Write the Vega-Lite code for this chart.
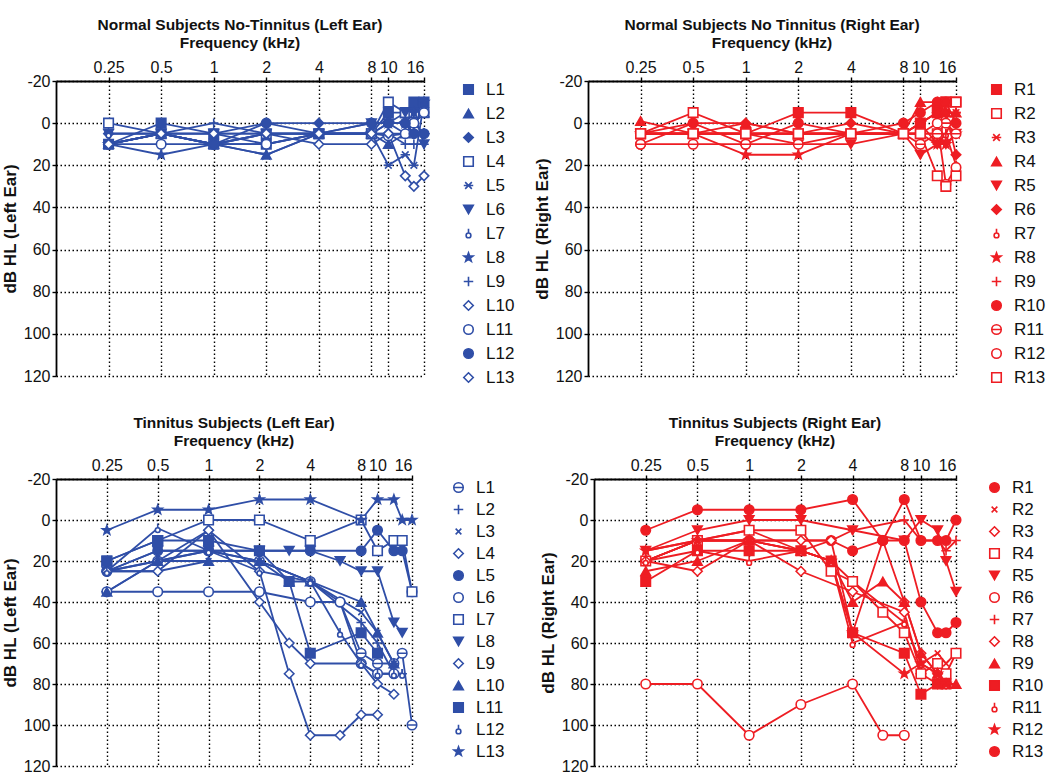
{
"$schema":"https://vega.github.io/schema/vega-lite/v6.json",
"background":"white",
"padding":{"left":1,"top":17,"right":0,"bottom":0},
"datasets":{
"a":[
{"s":"L1","f":0.25,"db":10},{"s":"L1","f":0.5,"db":0},{"s":"L1","f":1,"db":5},{"s":"L1","f":2,"db":10},{"s":"L1","f":4,"db":5},{"s":"L1","f":8,"db":5},{"s":"L1","f":10,"db":-5},{"s":"L1","f":12.5,"db":-5},{"s":"L1","f":14,"db":-10},{"s":"L1","f":16,"db":-10},
{"s":"L2","f":0.25,"db":10},{"s":"L2","f":0.5,"db":5},{"s":"L2","f":1,"db":10},{"s":"L2","f":2,"db":15},{"s":"L2","f":4,"db":5},{"s":"L2","f":8,"db":5},{"s":"L2","f":10,"db":10},{"s":"L2","f":12.5,"db":5},{"s":"L2","f":14,"db":0},{"s":"L2","f":16,"db":-5},
{"s":"L3","f":0.25,"db":5},{"s":"L3","f":0.5,"db":5},{"s":"L3","f":1,"db":5},{"s":"L3","f":2,"db":0},{"s":"L3","f":4,"db":0},{"s":"L3","f":8,"db":0},{"s":"L3","f":10,"db":0},{"s":"L3","f":12.5,"db":0},{"s":"L3","f":14,"db":5},{"s":"L3","f":16,"db":5},
{"s":"L4","f":0.25,"db":0},{"s":"L4","f":0.5,"db":5},{"s":"L4","f":1,"db":10},{"s":"L4","f":2,"db":5},{"s":"L4","f":4,"db":5},{"s":"L4","f":8,"db":5},{"s":"L4","f":10,"db":-10},{"s":"L4","f":12.5,"db":-5},{"s":"L4","f":14,"db":-5},{"s":"L4","f":16,"db":-5},
{"s":"L5","f":0.25,"db":10},{"s":"L5","f":0.5,"db":5},{"s":"L5","f":1,"db":10},{"s":"L5","f":2,"db":10},{"s":"L5","f":4,"db":5},{"s":"L5","f":8,"db":5},{"s":"L5","f":10,"db":20},{"s":"L5","f":12.5,"db":15},{"s":"L5","f":14,"db":20},{"s":"L5","f":16,"db":-10},
{"s":"L6","f":0.25,"db":5},{"s":"L6","f":0.5,"db":5},{"s":"L6","f":1,"db":5},{"s":"L6","f":2,"db":5},{"s":"L6","f":4,"db":5},{"s":"L6","f":8,"db":0},{"s":"L6","f":10,"db":0},{"s":"L6","f":12.5,"db":-5},{"s":"L6","f":14,"db":-5},{"s":"L6","f":16,"db":10},
{"s":"L7","f":0.25,"db":5},{"s":"L7","f":0.5,"db":5},{"s":"L7","f":1,"db":10},{"s":"L7","f":2,"db":5},{"s":"L7","f":4,"db":5},{"s":"L7","f":8,"db":5},{"s":"L7","f":10,"db":0},{"s":"L7","f":12.5,"db":5},{"s":"L7","f":14,"db":0},{"s":"L7","f":16,"db":-5},
{"s":"L8","f":0.25,"db":10},{"s":"L8","f":0.5,"db":15},{"s":"L8","f":1,"db":10},{"s":"L8","f":2,"db":15},{"s":"L8","f":4,"db":5},{"s":"L8","f":8,"db":5},{"s":"L8","f":10,"db":0},{"s":"L8","f":12.5,"db":0},{"s":"L8","f":14,"db":-5},{"s":"L8","f":16,"db":-10},
{"s":"L9","f":0.25,"db":10},{"s":"L9","f":0.5,"db":5},{"s":"L9","f":1,"db":0},{"s":"L9","f":2,"db":5},{"s":"L9","f":4,"db":5},{"s":"L9","f":8,"db":5},{"s":"L9","f":10,"db":5},{"s":"L9","f":12.5,"db":10},{"s":"L9","f":14,"db":10},{"s":"L9","f":16,"db":10},
{"s":"L10","f":0.25,"db":10},{"s":"L10","f":0.5,"db":5},{"s":"L10","f":1,"db":10},{"s":"L10","f":2,"db":5},{"s":"L10","f":4,"db":10},{"s":"L10","f":8,"db":10},{"s":"L10","f":10,"db":5},{"s":"L10","f":12.5,"db":5},{"s":"L10","f":14,"db":0},{"s":"L10","f":16,"db":5},
{"s":"L11","f":0.25,"db":10},{"s":"L11","f":0.5,"db":10},{"s":"L11","f":1,"db":10},{"s":"L11","f":2,"db":10},{"s":"L11","f":4,"db":5},{"s":"L11","f":8,"db":5},{"s":"L11","f":10,"db":6},{"s":"L11","f":12.5,"db":5},{"s":"L11","f":14,"db":0},{"s":"L11","f":16,"db":-5},
{"s":"L12","f":0.25,"db":10},{"s":"L12","f":0.5,"db":5},{"s":"L12","f":1,"db":10},{"s":"L12","f":2,"db":0},{"s":"L12","f":4,"db":5},{"s":"L12","f":8,"db":0},{"s":"L12","f":10,"db":0},{"s":"L12","f":12.5,"db":0},{"s":"L12","f":14,"db":5},{"s":"L12","f":16,"db":5},
{"s":"L13","f":0.25,"db":10},{"s":"L13","f":0.5,"db":5},{"s":"L13","f":1,"db":5},{"s":"L13","f":2,"db":5},{"s":"L13","f":4,"db":5},{"s":"L13","f":8,"db":5},{"s":"L13","f":10,"db":5},{"s":"L13","f":12.5,"db":25},{"s":"L13","f":14,"db":30},{"s":"L13","f":16,"db":25}
],
"b":[
{"s":"R1","f":0.25,"db":5},{"s":"R1","f":0.5,"db":5},{"s":"R1","f":1,"db":5},{"s":"R1","f":2,"db":-5},{"s":"R1","f":4,"db":-5},{"s":"R1","f":8,"db":5},{"s":"R1","f":10,"db":0},{"s":"R1","f":12.5,"db":-5},{"s":"R1","f":14,"db":-10},{"s":"R1","f":16,"db":-10},
{"s":"R2","f":0.25,"db":5},{"s":"R2","f":0.5,"db":-5},{"s":"R2","f":1,"db":5},{"s":"R2","f":2,"db":5},{"s":"R2","f":4,"db":5},{"s":"R2","f":8,"db":5},{"s":"R2","f":10,"db":5},{"s":"R2","f":12.5,"db":5},{"s":"R2","f":14,"db":-10},{"s":"R2","f":16,"db":-10},
{"s":"R3","f":0.25,"db":5},{"s":"R3","f":0.5,"db":5},{"s":"R3","f":1,"db":5},{"s":"R3","f":2,"db":5},{"s":"R3","f":4,"db":5},{"s":"R3","f":8,"db":5},{"s":"R3","f":10,"db":0},{"s":"R3","f":12.5,"db":-5},{"s":"R3","f":14,"db":-5},{"s":"R3","f":16,"db":-5},
{"s":"R4","f":0.25,"db":-1},{"s":"R4","f":0.5,"db":5},{"s":"R4","f":1,"db":0},{"s":"R4","f":2,"db":5},{"s":"R4","f":4,"db":5},{"s":"R4","f":8,"db":5},{"s":"R4","f":10,"db":-10},{"s":"R4","f":12.5,"db":-10},{"s":"R4","f":14,"db":-5},{"s":"R4","f":16,"db":-5},
{"s":"R5","f":0.25,"db":5},{"s":"R5","f":0.5,"db":5},{"s":"R5","f":1,"db":5},{"s":"R5","f":2,"db":10},{"s":"R5","f":4,"db":10},{"s":"R5","f":8,"db":5},{"s":"R5","f":10,"db":15},{"s":"R5","f":12.5,"db":10},{"s":"R5","f":14,"db":10},{"s":"R5","f":16,"db":5},
{"s":"R6","f":0.25,"db":5},{"s":"R6","f":0.5,"db":0},{"s":"R6","f":1,"db":0},{"s":"R6","f":2,"db":5},{"s":"R6","f":4,"db":0},{"s":"R6","f":8,"db":5},{"s":"R6","f":10,"db":0},{"s":"R6","f":12.5,"db":-5},{"s":"R6","f":14,"db":-5},{"s":"R6","f":16,"db":15},
{"s":"R7","f":0.25,"db":5},{"s":"R7","f":0.5,"db":5},{"s":"R7","f":1,"db":5},{"s":"R7","f":2,"db":5},{"s":"R7","f":4,"db":5},{"s":"R7","f":8,"db":5},{"s":"R7","f":10,"db":5},{"s":"R7","f":12.5,"db":5},{"s":"R7","f":14,"db":5},{"s":"R7","f":16,"db":20},
{"s":"R8","f":0.25,"db":5},{"s":"R8","f":0.5,"db":5},{"s":"R8","f":1,"db":15},{"s":"R8","f":2,"db":15},{"s":"R8","f":4,"db":5},{"s":"R8","f":8,"db":5},{"s":"R8","f":10,"db":0},{"s":"R8","f":12.5,"db":10},{"s":"R8","f":14,"db":10},{"s":"R8","f":16,"db":5},
{"s":"R9","f":0.25,"db":5},{"s":"R9","f":0.5,"db":5},{"s":"R9","f":1,"db":5},{"s":"R9","f":2,"db":5},{"s":"R9","f":4,"db":5},{"s":"R9","f":8,"db":5},{"s":"R9","f":10,"db":5},{"s":"R9","f":12.5,"db":10},{"s":"R9","f":14,"db":5},{"s":"R9","f":16,"db":-5},
{"s":"R10","f":0.25,"db":10},{"s":"R10","f":0.5,"db":0},{"s":"R10","f":1,"db":10},{"s":"R10","f":2,"db":0},{"s":"R10","f":4,"db":5},{"s":"R10","f":8,"db":0},{"s":"R10","f":10,"db":-5},{"s":"R10","f":12.5,"db":-10},{"s":"R10","f":14,"db":-10},{"s":"R10","f":16,"db":0},
{"s":"R11","f":0.25,"db":10},{"s":"R11","f":0.5,"db":10},{"s":"R11","f":1,"db":10},{"s":"R11","f":2,"db":10},{"s":"R11","f":4,"db":5},{"s":"R11","f":8,"db":5},{"s":"R11","f":10,"db":10},{"s":"R11","f":12.5,"db":5},{"s":"R11","f":14,"db":0},{"s":"R11","f":16,"db":5},
{"s":"R12","f":0.25,"db":5},{"s":"R12","f":0.5,"db":5},{"s":"R12","f":1,"db":5},{"s":"R12","f":2,"db":5},{"s":"R12","f":4,"db":5},{"s":"R12","f":8,"db":5},{"s":"R12","f":10,"db":5},{"s":"R12","f":12.5,"db":0},{"s":"R12","f":14,"db":29},{"s":"R12","f":16,"db":21},
{"s":"R13","f":0.25,"db":5},{"s":"R13","f":0.5,"db":5},{"s":"R13","f":1,"db":5},{"s":"R13","f":2,"db":5},{"s":"R13","f":4,"db":5},{"s":"R13","f":8,"db":5},{"s":"R13","f":10,"db":5},{"s":"R13","f":12.5,"db":25},{"s":"R13","f":14,"db":30},{"s":"R13","f":16,"db":25}
],
"c":[
{"s":"L1","f":0.25,"db":25},{"s":"L1","f":0.5,"db":20},{"s":"L1","f":1,"db":15},{"s":"L1","f":2,"db":20},{"s":"L1","f":4,"db":30},{"s":"L1","f":6,"db":40},{"s":"L1","f":8,"db":65},{"s":"L1","f":10,"db":70},{"s":"L1","f":12.5,"db":70},{"s":"L1","f":14,"db":65},{"s":"L1","f":16,"db":100},
{"s":"L2","f":0.25,"db":25},{"s":"L2","f":0.5,"db":20},{"s":"L2","f":1,"db":15},{"s":"L2","f":2,"db":20},{"s":"L2","f":4,"db":30},{"s":"L2","f":8,"db":50},{"s":"L2","f":10,"db":60},{"s":"L2","f":12.5,"db":75},{"s":"L2","f":14,"db":75},
{"s":"L3","f":0.25,"db":25},{"s":"L3","f":0.5,"db":25},{"s":"L3","f":1,"db":20},{"s":"L3","f":2,"db":20},{"s":"L3","f":4,"db":30},{"s":"L3","f":8,"db":45},{"s":"L3","f":10,"db":55},{"s":"L3","f":12.5,"db":70},
{"s":"L4","f":0.25,"db":35},{"s":"L4","f":0.5,"db":20},{"s":"L4","f":1,"db":5},{"s":"L4","f":2,"db":25},{"s":"L4","f":3,"db":75},{"s":"L4","f":4,"db":105},{"s":"L4","f":6,"db":105},{"s":"L4","f":8,"db":95},{"s":"L4","f":10,"db":95},
{"s":"L5","f":0.25,"db":25},{"s":"L5","f":0.5,"db":15},{"s":"L5","f":1,"db":15},{"s":"L5","f":2,"db":15},{"s":"L5","f":4,"db":15},{"s":"L5","f":8,"db":15},{"s":"L5","f":10,"db":5},{"s":"L5","f":12.5,"db":15},{"s":"L5","f":14,"db":15},{"s":"L5","f":16,"db":35},
{"s":"L6","f":0.25,"db":35},{"s":"L6","f":0.5,"db":35},{"s":"L6","f":1,"db":35},{"s":"L6","f":2,"db":35},{"s":"L6","f":4,"db":40},{"s":"L6","f":6,"db":40},{"s":"L6","f":8,"db":70},{"s":"L6","f":10,"db":75},{"s":"L6","f":12.5,"db":75},
{"s":"L7","f":0.25,"db":20},{"s":"L7","f":0.5,"db":10},{"s":"L7","f":1,"db":0},{"s":"L7","f":2,"db":0},{"s":"L7","f":4,"db":10},{"s":"L7","f":8,"db":0},{"s":"L7","f":10,"db":15},{"s":"L7","f":12.5,"db":10},{"s":"L7","f":14,"db":10},{"s":"L7","f":16,"db":35},
{"s":"L8","f":0.25,"db":25},{"s":"L8","f":0.5,"db":15},{"s":"L8","f":1,"db":15},{"s":"L8","f":2,"db":15},{"s":"L8","f":3,"db":15},{"s":"L8","f":4,"db":15},{"s":"L8","f":6,"db":20},{"s":"L8","f":8,"db":25},{"s":"L8","f":10,"db":25},{"s":"L8","f":12.5,"db":50},{"s":"L8","f":14,"db":55},
{"s":"L9","f":0.25,"db":25},{"s":"L9","f":0.5,"db":25},{"s":"L9","f":1,"db":5},{"s":"L9","f":2,"db":40},{"s":"L9","f":3,"db":60},{"s":"L9","f":4,"db":70},{"s":"L9","f":8,"db":70},{"s":"L9","f":10,"db":80},{"s":"L9","f":12.5,"db":85},
{"s":"L10","f":0.25,"db":35},{"s":"L10","f":0.5,"db":20},{"s":"L10","f":1,"db":20},{"s":"L10","f":2,"db":20},{"s":"L10","f":3,"db":30},{"s":"L10","f":4,"db":30},{"s":"L10","f":8,"db":40},{"s":"L10","f":10,"db":55},{"s":"L10","f":12.5,"db":70},
{"s":"L11","f":0.25,"db":20},{"s":"L11","f":0.5,"db":10},{"s":"L11","f":1,"db":10},{"s":"L11","f":2,"db":15},{"s":"L11","f":3,"db":30},{"s":"L11","f":4,"db":65},{"s":"L11","f":8,"db":55},{"s":"L11","f":10,"db":65},
{"s":"L12","f":0.25,"db":25},{"s":"L12","f":0.5,"db":4},{"s":"L12","f":1,"db":15},{"s":"L12","f":2,"db":25},{"s":"L12","f":4,"db":30},{"s":"L12","f":6,"db":55},{"s":"L12","f":8,"db":70},{"s":"L12","f":10,"db":75},{"s":"L12","f":12.5,"db":75},{"s":"L12","f":14,"db":75},
{"s":"L13","f":0.25,"db":5},{"s":"L13","f":0.5,"db":-5},{"s":"L13","f":1,"db":-5},{"s":"L13","f":2,"db":-10},{"s":"L13","f":4,"db":-10},{"s":"L13","f":8,"db":0},{"s":"L13","f":10,"db":-10},{"s":"L13","f":12.5,"db":-10},{"s":"L13","f":14,"db":0},{"s":"L13","f":16,"db":0}
],
"d":[
{"s":"R1","f":0.25,"db":20},{"s":"R1","f":0.5,"db":10},{"s":"R1","f":1,"db":10},{"s":"R1","f":2,"db":15},{"s":"R1","f":3,"db":10},{"s":"R1","f":4,"db":15},{"s":"R1","f":6,"db":10},{"s":"R1","f":8,"db":10},{"s":"R1","f":10,"db":40},{"s":"R1","f":12.5,"db":55},{"s":"R1","f":14,"db":55},{"s":"R1","f":16,"db":50},
{"s":"R2","f":0.25,"db":15},{"s":"R2","f":0.5,"db":10},{"s":"R2","f":1,"db":5},{"s":"R2","f":2,"db":15},{"s":"R2","f":3,"db":20},{"s":"R2","f":4,"db":30},{"s":"R2","f":8,"db":50},{"s":"R2","f":10,"db":70},{"s":"R2","f":12.5,"db":65},{"s":"R2","f":14,"db":70},{"s":"R2","f":16,"db":65},
{"s":"R3","f":0.25,"db":20},{"s":"R3","f":0.5,"db":25},{"s":"R3","f":1,"db":10},{"s":"R3","f":2,"db":25},{"s":"R3","f":4,"db":35},{"s":"R3","f":8,"db":45},{"s":"R3","f":10,"db":75},{"s":"R3","f":12.5,"db":80},{"s":"R3","f":14,"db":80},
{"s":"R4","f":0.25,"db":20},{"s":"R4","f":0.5,"db":10},{"s":"R4","f":1,"db":5},{"s":"R4","f":2,"db":5},{"s":"R4","f":3,"db":25},{"s":"R4","f":4,"db":30},{"s":"R4","f":6,"db":45},{"s":"R4","f":8,"db":55},{"s":"R4","f":10,"db":75},{"s":"R4","f":12.5,"db":70},{"s":"R4","f":14,"db":75},{"s":"R4","f":16,"db":65},
{"s":"R5","f":0.25,"db":15},{"s":"R5","f":0.5,"db":5},{"s":"R5","f":1,"db":0},{"s":"R5","f":2,"db":0},{"s":"R5","f":4,"db":5},{"s":"R5","f":8,"db":10},{"s":"R5","f":10,"db":0},{"s":"R5","f":12.5,"db":5},{"s":"R5","f":14,"db":20},{"s":"R5","f":16,"db":35},
{"s":"R6","f":0.25,"db":80},{"s":"R6","f":0.5,"db":80},{"s":"R6","f":1,"db":105},{"s":"R6","f":2,"db":90},{"s":"R6","f":4,"db":80},{"s":"R6","f":6,"db":105},{"s":"R6","f":8,"db":105},
{"s":"R7","f":0.25,"db":20},{"s":"R7","f":0.5,"db":10},{"s":"R7","f":1,"db":10},{"s":"R7","f":2,"db":10},{"s":"R7","f":3,"db":10},{"s":"R7","f":4,"db":5},{"s":"R7","f":8,"db":0},{"s":"R7","f":10,"db":10},{"s":"R7","f":12.5,"db":10},{"s":"R7","f":14,"db":15},{"s":"R7","f":16,"db":10},
{"s":"R8","f":0.25,"db":20},{"s":"R8","f":0.5,"db":10},{"s":"R8","f":1,"db":10},{"s":"R8","f":2,"db":10},{"s":"R8","f":3,"db":10},{"s":"R8","f":4,"db":55},{"s":"R8","f":6,"db":10},{"s":"R8","f":8,"db":40},{"s":"R8","f":10,"db":65},{"s":"R8","f":12.5,"db":75},{"s":"R8","f":14,"db":80},
{"s":"R9","f":0.25,"db":25},{"s":"R9","f":0.5,"db":20},{"s":"R9","f":1,"db":10},{"s":"R9","f":2,"db":15},{"s":"R9","f":3,"db":20},{"s":"R9","f":4,"db":40},{"s":"R9","f":6,"db":30},{"s":"R9","f":8,"db":40},{"s":"R9","f":10,"db":65},{"s":"R9","f":12.5,"db":75},{"s":"R9","f":14,"db":80},{"s":"R9","f":16,"db":80},
{"s":"R10","f":0.25,"db":30},{"s":"R10","f":0.5,"db":15},{"s":"R10","f":1,"db":15},{"s":"R10","f":2,"db":15},{"s":"R10","f":3,"db":20},{"s":"R10","f":4,"db":55},{"s":"R10","f":8,"db":65},{"s":"R10","f":10,"db":85},{"s":"R10","f":12.5,"db":80},{"s":"R10","f":14,"db":80},
{"s":"R11","f":0.25,"db":20},{"s":"R11","f":0.5,"db":15},{"s":"R11","f":1,"db":20},{"s":"R11","f":2,"db":15},{"s":"R11","f":3,"db":20},{"s":"R11","f":4,"db":60},{"s":"R11","f":8,"db":50},{"s":"R11","f":10,"db":70},{"s":"R11","f":12.5,"db":75},{"s":"R11","f":14,"db":80},
{"s":"R12","f":0.25,"db":15},{"s":"R12","f":0.5,"db":10},{"s":"R12","f":1,"db":10},{"s":"R12","f":2,"db":15},{"s":"R12","f":3,"db":20},{"s":"R12","f":4,"db":55},{"s":"R12","f":8,"db":75},{"s":"R12","f":10,"db":70},{"s":"R12","f":12.5,"db":75},{"s":"R12","f":14,"db":80},
{"s":"R13","f":0.25,"db":5},{"s":"R13","f":0.5,"db":-5},{"s":"R13","f":1,"db":-5},{"s":"R13","f":2,"db":-5},{"s":"R13","f":4,"db":-10},{"s":"R13","f":6,"db":10},{"s":"R13","f":8,"db":-10},{"s":"R13","f":10,"db":10},{"s":"R13","f":12.5,"db":10},{"s":"R13","f":14,"db":10},{"s":"R13","f":16,"db":0}
]
},
"vconcat":[
{"hconcat":[
{"width":368,"height":295,"data":{"name":"a"},
 "title":{"text":["Normal Subjects No-Tinnitus (Left Ear)","Frequency (kHz)"]},
 "encoding":{
  "x":{"field":"f","type":"quantitative","scale":{"type":"log","domain":[0.125,16],"nice":false},"axis":{"orient":"top","values":[0.25,0.5,1,2,4,8,10,16],"title":null,"labelExpr":"'' + datum.value"}},
  "y":{"field":"db","type":"quantitative","scale":{"domain":[-20,120],"reverse":true,"nice":false,"zero":false},"axis":{"values":[-20,0,20,40,60,80,100,120],"title":"dB HL (Left Ear)","labelExpr":"'' + datum.value"}}},
 "layer":[
  {"mark":{"type":"line","color":"#2f4ea7","strokeWidth":1.8},"encoding":{"detail":{"field":"s"}}},
  {"mark":{"type":"point","stroke":"#2f4ea7","strokeWidth":1.6,"opacity":1,"size":90},
   "encoding":{
    "shape":{"field":"s","type":"nominal","scale":{"domain":["L1","L2","L3","L4","L5","L6","L7","L8","L9","L10","L11","L12","L13"],"range":["square","triangle-up","diamond","square","M-1,0L1,0M-0.7,-0.7L0.7,0.7M-0.7,0.7L0.7,-0.7","triangle-down","M-0.5,0.4A0.5,0.5 0 1,0 0.5,0.4A0.5,0.5 0 1,0 -0.5,0.4M0,-0.1L0,-1","M0,-1L0.24,-0.33L0.95,-0.31L0.38,0.12L0.59,0.81L0,0.4L-0.59,0.81L-0.38,0.12L-0.95,-0.31L-0.24,-0.33Z","M-1,0L1,0M0,-1L0,1","diamond","circle","circle","diamond"]},"legend":{"title":null,"rowPadding":6,"offset":32}},
    "fill":{"field":"s","type":"nominal","scale":{"domain":["L1","L2","L3","L4","L5","L6","L7","L8","L9","L10","L11","L12","L13"],"range":["#2f4ea7","#2f4ea7","#2f4ea7","white","#2f4ea7","#2f4ea7","white","#2f4ea7","#2f4ea7","white","white","#2f4ea7","white"]},"legend":{"title":null,"rowPadding":6,"offset":32}}}}
 ]},
{"width":368,"height":295,"data":{"name":"b"},
 "title":{"text":["Normal Subjects No Tinnitus (Right Ear)","Frequency (kHz)"]},
 "encoding":{
  "x":{"field":"f","type":"quantitative","scale":{"type":"log","domain":[0.125,16],"nice":false},"axis":{"orient":"top","values":[0.25,0.5,1,2,4,8,10,16],"title":null,"labelExpr":"'' + datum.value"}},
  "y":{"field":"db","type":"quantitative","scale":{"domain":[-20,120],"reverse":true,"nice":false,"zero":false},"axis":{"values":[-20,0,20,40,60,80,100,120],"title":"dB HL (Right Ear)","labelExpr":"'' + datum.value"}}},
 "layer":[
  {"mark":{"type":"line","color":"#ee1d23","strokeWidth":1.8},"encoding":{"detail":{"field":"s"}}},
  {"mark":{"type":"point","stroke":"#ee1d23","strokeWidth":1.6,"opacity":1,"size":90},
   "encoding":{
    "shape":{"field":"s","type":"nominal","scale":{"domain":["R1","R2","R3","R4","R5","R6","R7","R8","R9","R10","R11","R12","R13"],"range":["square","square","M-1,0L1,0M-0.7,-0.7L0.7,0.7M-0.7,0.7L0.7,-0.7","triangle-up","triangle-down","diamond","M-0.5,0.4A0.5,0.5 0 1,0 0.5,0.4A0.5,0.5 0 1,0 -0.5,0.4M0,-0.1L0,-1","M0,-1L0.24,-0.33L0.95,-0.31L0.38,0.12L0.59,0.81L0,0.4L-0.59,0.81L-0.38,0.12L-0.95,-0.31L-0.24,-0.33Z","M-1,0L1,0M0,-1L0,1","circle","M-1,0A1,1 0 1,0 1,0A1,1 0 1,0 -1,0M-1,0L1,0","circle","square"]},"legend":{"title":null,"rowPadding":6,"offset":28}},
    "fill":{"field":"s","type":"nominal","scale":{"domain":["R1","R2","R3","R4","R5","R6","R7","R8","R9","R10","R11","R12","R13"],"range":["#ee1d23","white","#ee1d23","#ee1d23","#ee1d23","#ee1d23","white","#ee1d23","#ee1d23","#ee1d23","white","white","white"]},"legend":{"title":null,"rowPadding":6,"offset":28}}}}
 ]}
],"spacing":18,"resolve":{"scale":{"shape":"independent","fill":"independent","x":"independent","y":"independent"},"legend":{"shape":"independent","fill":"independent"}}},
{"hconcat":[
{"width":356,"height":287,"data":{"name":"c"},
 "title":{"text":["Tinnitus Subjects (Left Ear)","Frequency (kHz)"]},
 "encoding":{
  "x":{"field":"f","type":"quantitative","scale":{"type":"log","domain":[0.125,16],"nice":false},"axis":{"orient":"top","values":[0.25,0.5,1,2,4,8,10,16],"title":null,"labelExpr":"'' + datum.value"}},
  "y":{"field":"db","type":"quantitative","scale":{"domain":[-20,120],"reverse":true,"nice":false,"zero":false},"axis":{"values":[-20,0,20,40,60,80,100,120],"title":"dB HL (Left Ear)","labelExpr":"'' + datum.value"}}},
 "layer":[
  {"mark":{"type":"line","color":"#2f4ea7","strokeWidth":1.8},"encoding":{"detail":{"field":"s"}}},
  {"mark":{"type":"point","stroke":"#2f4ea7","strokeWidth":1.6,"opacity":1,"size":90},
   "encoding":{
    "shape":{"field":"s","type":"nominal","scale":{"domain":["L1","L2","L3","L4","L5","L6","L7","L8","L9","L10","L11","L12","L13"],"range":["M-1,0A1,1 0 1,0 1,0A1,1 0 1,0 -1,0M-1,0L1,0","M-1,0L1,0M0,-1L0,1","M-0.6,-0.6L0.6,0.6M-0.6,0.6L0.6,-0.6","diamond","circle","circle","square","triangle-down","diamond","triangle-up","square","M-0.5,0.4A0.5,0.5 0 1,0 0.5,0.4A0.5,0.5 0 1,0 -0.5,0.4M0,-0.1L0,-1","M0,-1L0.24,-0.33L0.95,-0.31L0.38,0.12L0.59,0.81L0,0.4L-0.59,0.81L-0.38,0.12L-0.95,-0.31L-0.24,-0.33Z"]},"legend":{"title":null,"rowPadding":4,"offset":34}},
    "fill":{"field":"s","type":"nominal","scale":{"domain":["L1","L2","L3","L4","L5","L6","L7","L8","L9","L10","L11","L12","L13"],"range":["white","#2f4ea7","#2f4ea7","white","#2f4ea7","white","white","#2f4ea7","white","#2f4ea7","#2f4ea7","white","#2f4ea7"]},"legend":{"title":null,"rowPadding":4,"offset":34}}}}
 ]},
{"width":362,"height":287,"data":{"name":"d"},
 "title":{"text":["Tinnitus Subjects (Right Ear)","Frequency (kHz)"]},
 "encoding":{
  "x":{"field":"f","type":"quantitative","scale":{"type":"log","domain":[0.125,16],"nice":false},"axis":{"orient":"top","values":[0.25,0.5,1,2,4,8,10,16],"title":null,"labelExpr":"'' + datum.value"}},
  "y":{"field":"db","type":"quantitative","scale":{"domain":[-20,120],"reverse":true,"nice":false,"zero":false},"axis":{"values":[-20,0,20,40,60,80,100,120],"title":"dB HL (Right Ear)","labelExpr":"'' + datum.value"}}},
 "layer":[
  {"mark":{"type":"line","color":"#ee1d23","strokeWidth":1.8},"encoding":{"detail":{"field":"s"}}},
  {"mark":{"type":"point","stroke":"#ee1d23","strokeWidth":1.6,"opacity":1,"size":90},
   "encoding":{
    "shape":{"field":"s","type":"nominal","scale":{"domain":["R1","R2","R3","R4","R5","R6","R7","R8","R9","R10","R11","R12","R13"],"range":["circle","M-0.6,-0.6L0.6,0.6M-0.6,0.6L0.6,-0.6","diamond","square","triangle-down","circle","M-1,0L1,0M0,-1L0,1","diamond","triangle-up","square","M-0.5,0.4A0.5,0.5 0 1,0 0.5,0.4A0.5,0.5 0 1,0 -0.5,0.4M0,-0.1L0,-1","M0,-1L0.24,-0.33L0.95,-0.31L0.38,0.12L0.59,0.81L0,0.4L-0.59,0.81L-0.38,0.12L-0.95,-0.31L-0.24,-0.33Z","circle"]},"legend":{"title":null,"rowPadding":4,"offset":26}},
    "fill":{"field":"s","type":"nominal","scale":{"domain":["R1","R2","R3","R4","R5","R6","R7","R8","R9","R10","R11","R12","R13"],"range":["#ee1d23","#ee1d23","white","white","#ee1d23","white","#ee1d23","white","#ee1d23","#ee1d23","white","#ee1d23","#ee1d23"]},"legend":{"title":null,"rowPadding":4,"offset":26}}}}
 ]}
],"spacing":34,"resolve":{"scale":{"shape":"independent","fill":"independent","x":"independent","y":"independent"},"legend":{"shape":"independent","fill":"independent"}}}
],
"spacing":29,
"resolve":{"scale":{"shape":"independent","fill":"independent","x":"independent","y":"independent"},"legend":{"shape":"independent","fill":"independent"}},
"config":{
 "font":"Liberation Sans",
 "view":{"stroke":null},
 "title":{"font":"Liberation Sans","fontSize":15.5,"fontWeight":"bold","color":"#111","lineHeight":18,"offset":8,"anchor":"middle"},
 "axis":{"domainColor":"#000","domainWidth":1.8,"tickColor":"#000","tickSize":4,"tickWidth":1.4,"gridColor":"#000","gridDash":[1.5,2.5],"gridWidth":1.4,"gridOpacity":1,"labelFont":"Liberation Sans","labelFontSize":16,"labelColor":"#111","labelPadding":2,"titleFont":"Liberation Sans","titleFontSize":17,"titleFontWeight":"bold","titleColor":"#111","titlePadding":4},
 "legend":{"labelFont":"Liberation Sans","labelFontSize":17,"labelColor":"#111","symbolSize":90,"symbolStrokeWidth":1.6,"padding":0,"labelOffset":9}
}
}
